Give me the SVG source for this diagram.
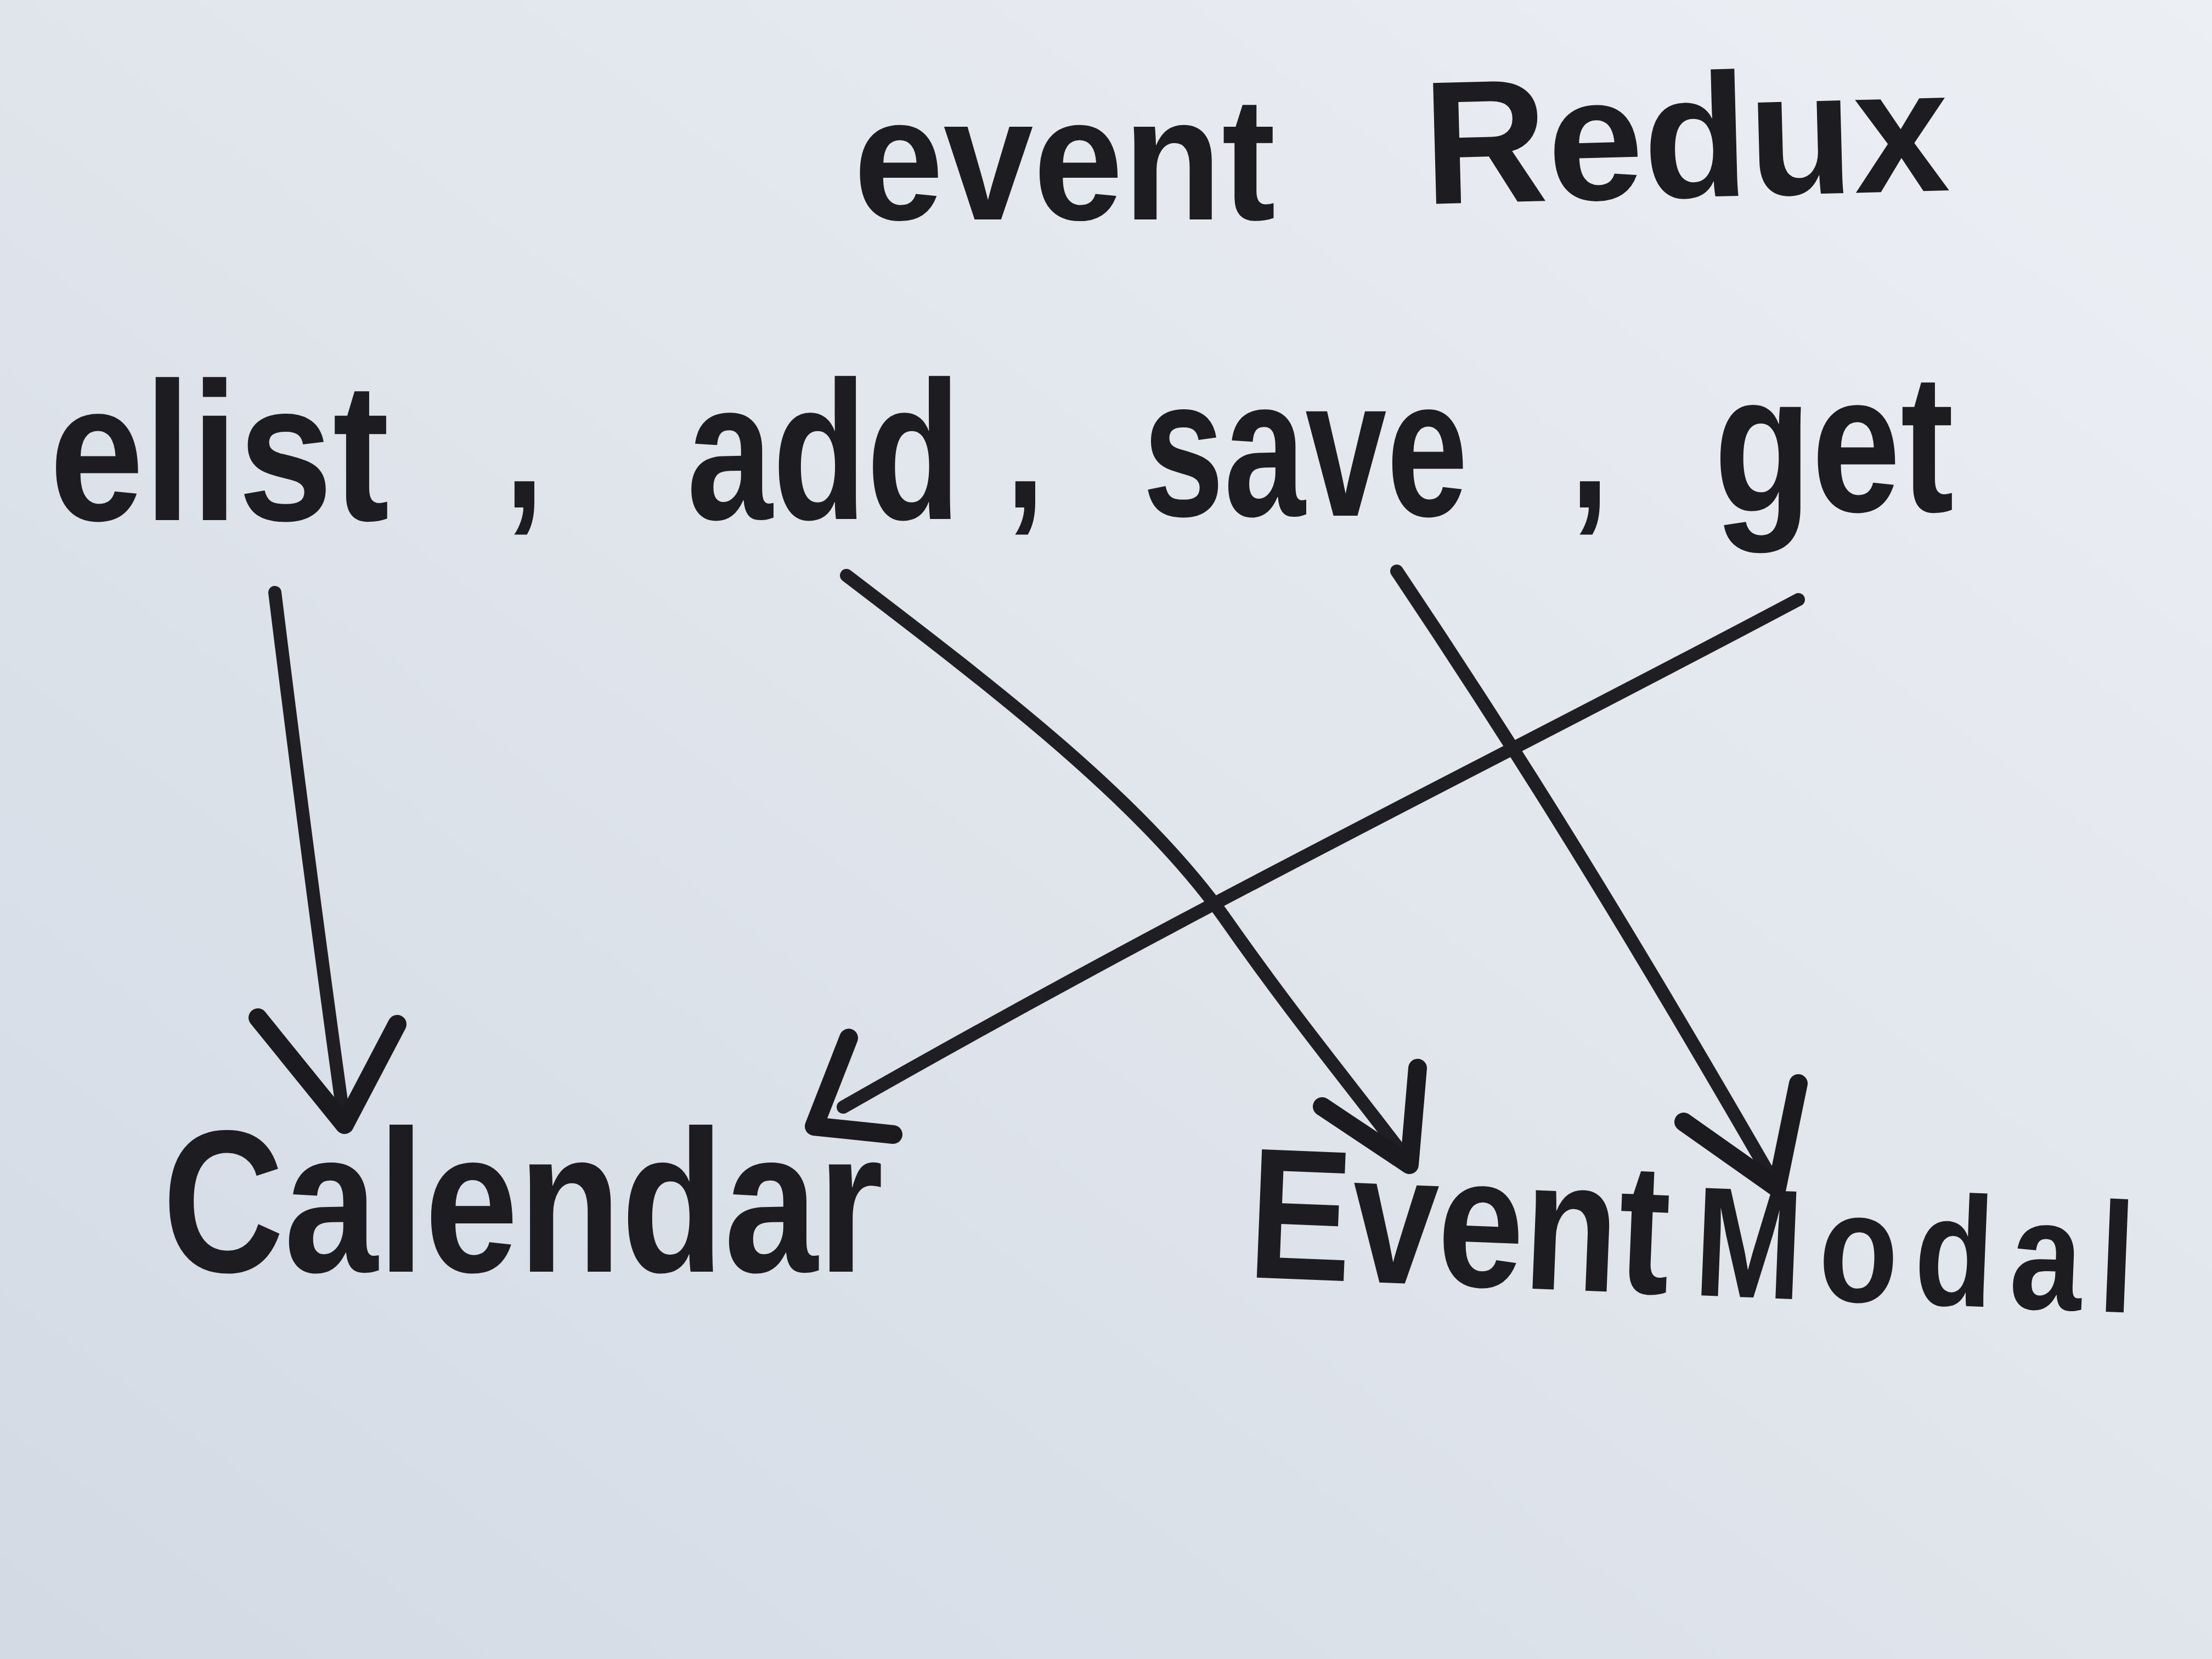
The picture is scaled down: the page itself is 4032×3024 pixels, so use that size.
<svg xmlns="http://www.w3.org/2000/svg" width="4032" height="3024" viewBox="0 0 4032 3024">
<defs>
<linearGradient id="board" x1="1" y1="0" x2="0" y2="1">
<stop offset="0" stop-color="#eceff4"/>
<stop offset="0.5" stop-color="#e0e5ec"/>
<stop offset="1" stop-color="#d3dae4"/>
</linearGradient>
<style>
.ink{font-family:"Liberation Sans","DejaVu Sans",sans-serif;font-weight:bold;fill:#1c1c21}
.line{fill:none;stroke:#1e1e23;stroke-width:24;stroke-linecap:round;stroke-linejoin:round}
.head{fill:none;stroke:#1a1a1f;stroke-width:34;stroke-linecap:round;stroke-linejoin:round}
</style>
</defs>
<rect width="4032" height="3024" fill="url(#board)"/>

<g id="title">
<text class="ink" font-size="320" transform="translate(1556 400) scale(0.92 1)">event</text>
<text class="ink" font-size="320" transform="translate(2597 372) rotate(-1.5) scale(0.98 1)">Redux</text>
</g>

<g id="elist"><text class="ink" font-size="360" transform="translate(90 948) scale(0.86 1)">elist</text></g>
<g id="add"><text class="ink" font-size="360" transform="translate(1252 946) scale(0.78 1)">add</text></g>
<g id="save"><text class="ink" font-size="360" transform="translate(2083 940) scale(0.74 1)">save</text></g>
<g id="get"><text class="ink" font-size="360" transform="translate(3124 932) scale(0.81 1)">get</text></g>
<g id="separators">
<text class="ink" font-size="320" transform="translate(920 925) scale(0.8 1)">,</text>
<text class="ink" font-size="320" transform="translate(1833 925) scale(0.8 1)">,</text>
<text class="ink" font-size="320" transform="translate(2862 925) scale(0.8 1)">,</text>
</g>

<g id="Calendar"><text class="ink" font-size="370" transform="translate(296 2318) scale(0.83 1)">Calendar</text></g>
<g id="EventModal"><text class="ink" font-size="340" transform="translate(2272 2328) rotate(2.3) scale(0.83 1)">Event<tspan dx="55" font-size="285" letter-spacing="36">Modal</tspan></text></g>

<g id="connectors">
<path class="line" d="M501 1080 Q560 1560 628 2050"/>
<path class="head" d="M470 1855 L628 2050 L724 1867"/>

<path class="line" d="M1543 1049 C1820 1260 2080 1460 2230 1670 C2370 1870 2480 2000 2569 2120"/>
<path class="head" d="M2410 2017 L2569 2123 L2584 1947"/>

<path class="line" d="M2546 1041 C2760 1360 2960 1680 3239 2165"/>
<path class="head" d="M3069 2045 L3239 2165 L3278 1975"/>

<path class="line" d="M3278 1093 C2700 1400 2200 1640 1537 2018"/>
<path class="head" d="M1547 1892 L1484 2053 L1628 2068"/>
</g>
</svg>
